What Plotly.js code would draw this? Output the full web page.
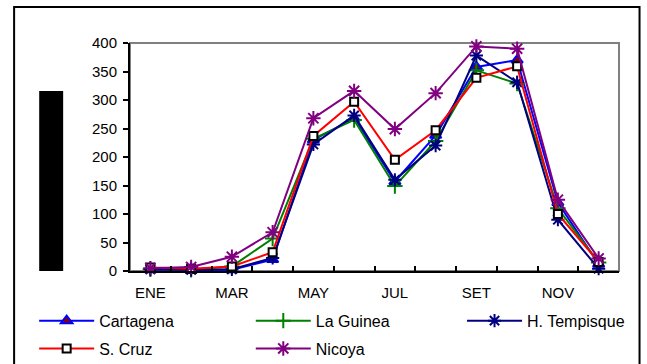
<!DOCTYPE html>
<html>
<head>
<meta charset="utf-8">
<script src="https://cdn.plot.ly/plotly-3.0.1.min.js"></script>
<style>html,body{margin:0;padding:0;background:#fff;}#chart{width:647px;height:364px;}</style>
</head>
<body>
<div id="chart"></div>
<script>
const months = ['ENE','FEB','MAR','ABR','MAY','JUN','JUL','AGO','SET','OCT','NOV','DIC'];
const tickLabels = ['ENE','MAR','MAY','JUL','SET','NOV'];
const cartagena   = [2, 1, 2, 20, 230, 268, 157, 238, 358, 370, 120, 12];
const laGuinea    = [3, 2, 8, 57, 232, 265, 149, 228, 352, 329, 110, 15];
const hTempisque  = [3, 2, 3, 23, 222, 273, 160, 220, 378, 331, 90, 4];
const sCruz       = [6, 4, 8, 33, 237, 297, 195, 247, 339, 359, 100, 16];
const nicoya      = [5, 7, 25, 68, 268, 316, 249, 312, 394, 390, 125, 22];

const xi = months.map((m, i) => i);
const tickIdx = tickLabels.map(t => months.indexOf(t));
const boundaries = months.slice(1).map((m, i) => i + 0.5);

function tr(name, y, color, marker, legend) {
  return {x: xi, y: y, name: name, type: 'scatter', mode: 'lines+markers', legendgroup: name,
    line: {color: color, width: 2}, marker: marker, legend: legend, cliponaxis: false};
}
const data = [
  tr('Cartagena', cartagena, '#0000FF', {symbol: 'triangle-up', size: 10, color: '#8B0000', line: {color: '#0000FF', width: 2}}, 'legend'),
  tr('La Guinea', laGuinea, '#008000', {symbol: 'cross-thin', size: 11, color: '#008000', line: {color: '#008000', width: 2}}, 'legend2'),
  tr('H. Tempisque', hTempisque, '#000080', {symbol: 'asterisk', size: 11, color: '#000080', line: {color: '#000080', width: 2}}, 'legend3'),
  tr('S. Cruz', sCruz, '#FF0000', {symbol: 'square', size: 8, color: '#FFFFFF', line: {color: '#000000', width: 2}}, 'legend'),
  tr('Nicoya', nicoya, '#800080', {symbol: 'asterisk', size: 12, color: '#800080', line: {color: '#800080', width: 2}}, 'legend2')
];

const fam = 'Liberation Sans, Arial, sans-serif';
function leg(x) {
  return {orientation: 'v', x: x, y: -0.1436, xanchor: 'left', yanchor: 'top',
    itemwidth: 55, tracegroupgap: 4, borderwidth: 0,
    font: {family: fam, size: 16, color: '#000'}, bgcolor: 'rgba(0,0,0,0)'};
}
const layout = {
  width: 647, height: 364,
  margin: {l: 130, r: 28, t: 43, b: 93, autoexpand: false},
  paper_bgcolor: '#fff', plot_bgcolor: '#fff',
  font: {family: fam, size: 15, color: '#000'},
  showlegend: true,
  xaxis: {
    type: 'linear', range: [-0.5, 11.5], fixedrange: true,
    tickmode: 'array', tickvals: tickIdx, ticktext: tickLabels, ticks: '',
    ticklabelstandoff: 7,
    showgrid: false, zeroline: false, showline: true, linecolor: '#000', linewidth: 2,
    tickfont: {family: fam, size: 15, color: '#000'},
    minor: {tickmode: 'array', tickvals: boundaries, ticks: 'inside', ticklen: 5, tickcolor: '#000', tickwidth: 2, showgrid: false}
  },
  yaxis: {
    range: [0, 400], tickmode: 'linear', tick0: 0, dtick: 50, fixedrange: true,
    ticks: 'outside', ticklen: 5, tickcolor: '#000', tickwidth: 2, ticklabelstandoff: 3,
    showgrid: false, zeroline: false, showline: true, linecolor: '#000', linewidth: 2,
    tickfont: {family: fam, size: 15, color: '#000'}
  },
  legend: leg(-0.196),
  legend2: leg(0.247),
  legend3: leg(0.679),
  shapes: [
    {type: 'rect', xref: 'paper', yref: 'paper', x0: -0.237, x1: 1.042, y0: -0.45, y1: 1.158,
      line: {color: '#000', width: 2}, fillcolor: 'rgba(0,0,0,0)', layer: 'below'},
    {type: 'rect', xref: 'paper', yref: 'paper', x0: 0, x1: 1, y0: 0, y1: 1,
      line: {color: '#808080', width: 2}, fillcolor: 'rgba(0,0,0,0)', layer: 'below'},
    {type: 'rect', xref: 'paper', yref: 'paper', x0: -0.1857, x1: -0.1367, y0: 0, y1: 0.789,
      line: {width: 0}, fillcolor: '#000', layer: 'above'}
  ]
};
Plotly.newPlot('chart', data, layout, {displayModeBar: false, staticPlot: true});
</script>
</body>
</html>
